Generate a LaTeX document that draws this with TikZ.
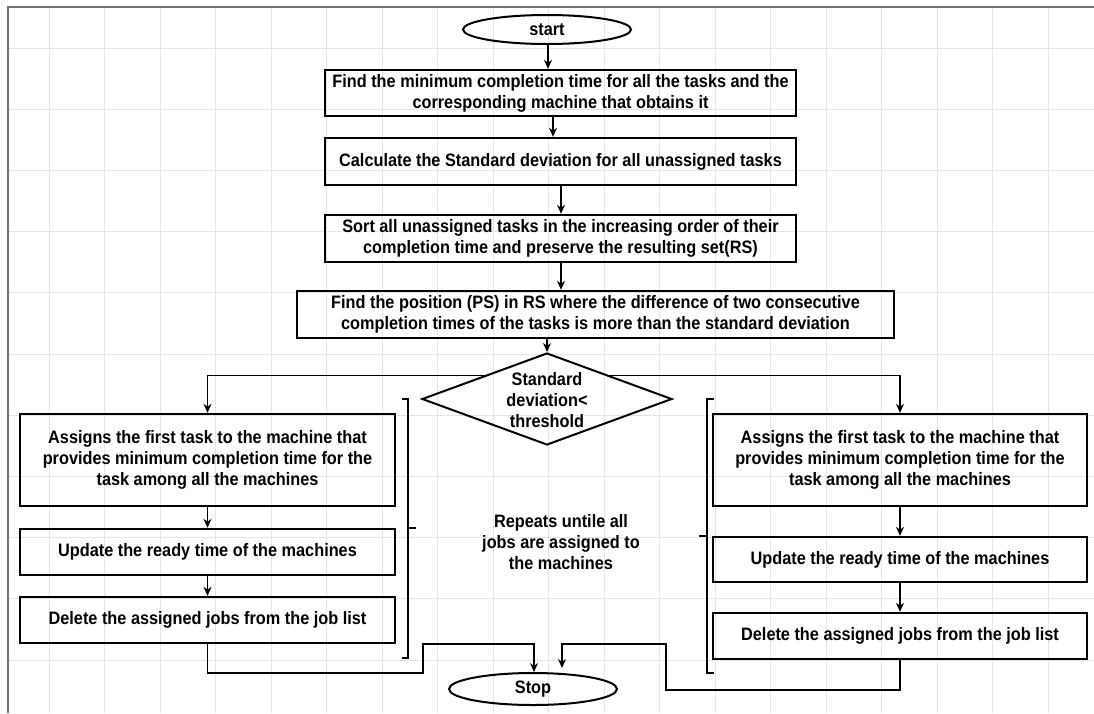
\documentclass[tikz,border=0pt]{standalone}
\usepackage{fontspec}
\setmainfont{Liberation Sans}[FakeStretch=0.905]
\usetikzlibrary{shapes.geometric,arrows.meta,calc}
\begin{document}
\begin{tikzpicture}[x=1pt,y=-1pt,
  font=\fontsize{18}{21}\selectfont\bfseries,
  box/.style={draw,line width=2.4pt,rectangle,inner sep=0pt,align=center},
  term/.style={draw,line width=2pt,ellipse,inner sep=0pt},
  dia/.style={draw,line width=2pt,diamond,inner sep=0pt,minimum width=250pt,minimum height=92pt},
  arr/.style={line width=1.3pt,-{Stealth[length=9pt,width=8pt]}},
  ln/.style={line width=1.3pt},
  brk/.style={line width=2.4pt},
  txt/.style={align=center,inner sep=0pt}]
\useasboundingbox (0,0) rectangle (1094,713);
\fill[white] (0,0) rectangle (1094,713);
% grid
\foreach \i in {0,...,19} \draw[black!10,line width=0.8pt] ({49+55.5*\i},8) -- ({49+55.5*\i},713);
\foreach \j in {0,...,11} \draw[black!10,line width=0.8pt] (8,{48+61.2*\j}) -- (1094,{48+61.2*\j});
% frame
\draw[black!55,line width=2pt] (1094,7) -- (8,7) -- (8,713);

% nodes
\node[term,minimum width=168pt,minimum height=29pt] (start) at (547,29.5) {start};
\node[box,minimum width=471pt,minimum height=46pt] (b1) at (560.5,93) {Find the minimum completion time for all the tasks and the\\corresponding machine that obtains it};
\node[box,minimum width=471pt,minimum height=47pt] (b2) at (560.5,161.5) {Calculate the Standard deviation for all unassigned tasks};
\node[box,minimum width=471pt,minimum height=47pt] (b3) at (560.5,238.5) {Sort all unassigned tasks in the increasing order of their\\completion time and preserve the resulting set(RS)};
\node[box,minimum width=597pt,minimum height=47pt] (b4) at (595.5,314.5) {Find the position (PS) in RS where the difference of two consecutive\\completion times of the tasks is more than the standard deviation};
\node[dia] (dec) at (547,399) {};
\node[txt] (dect) at (547,400) {Standard\\deviation<\\threshold};

\node[box,minimum width=375pt,minimum height=92pt] (la) at (207.5,460) {Assigns the first task to the machine that\\provides minimum completion time for the\\task among all the machines};
\node[box,minimum width=375pt,minimum height=46pt] (lb) at (207.5,552) {Update the ready time of the machines};
\node[box,minimum width=375pt,minimum height=46pt] (lc) at (207.5,620) {Delete the assigned jobs from the job list};

\node[box,minimum width=374pt,minimum height=92pt] (ra) at (900,460) {Assigns the first task to the machine that\\provides minimum completion time for the\\task among all the machines};
\node[box,minimum width=374pt,minimum height=45pt] (rb) at (900,559.5) {Update the ready time of the machines};
\node[box,minimum width=374pt,minimum height=46pt] (rc) at (900,636) {Delete the assigned jobs from the job list};

\node[term,minimum width=168pt,minimum height=32pt] (stop) at (533,689) {Stop};

\node[txt] (rep) at (561,542) {Repeats untile all\\jobs are assigned to\\the machines};

% connectors
\draw[arr] ([xshift=1pt]start.south) -- ([xshift=-12.5pt]b1.north);
\draw[arr] ([xshift=-7.5pt]b1.south) -- ([xshift=-7.5pt]b2.north);
\draw[arr] ([xshift=0.5pt]b2.south) -- ([xshift=0.5pt]b3.north);
\draw[arr] ([xshift=0.5pt]b3.south) -- ([xshift=-34.5pt]b4.north);
\draw[arr] ([xshift=-48.5pt]b4.south) -- (dec.north);
\draw[arr] (dec.north west) -| (la.north);
\draw[arr] (dec.north east) -| (ra.north);
\draw[arr] (la) -- (lb);
\draw[arr] (lb) -- (lc);
\draw[arr] (ra) -- (rb);
\draw[arr] (rb) -- (rc);

\coordinate (lA) at (423,673);
\coordinate (lB) at (534,644);
\draw[arr] (lc.south) |- (lA) |- (lB) -- (lB |- stop.north);
\coordinate (rA) at (666,690);
\coordinate (rB) at (562,644);
\coordinate (rE) at (562,668);
\draw[arr] (rc.south) |- (rA) |- (rB) -- (rE);

% brackets
\draw[brk] (402,399) -- (408,399) -- (408,658) -- (402,658);
\draw[brk] (408,528) -- (416,528);
\draw[brk] (714,399) -- (707,399) -- (707,673) -- (714,673);
\draw[brk] (707,536) -- (699,536);
\end{tikzpicture}
\end{document}
